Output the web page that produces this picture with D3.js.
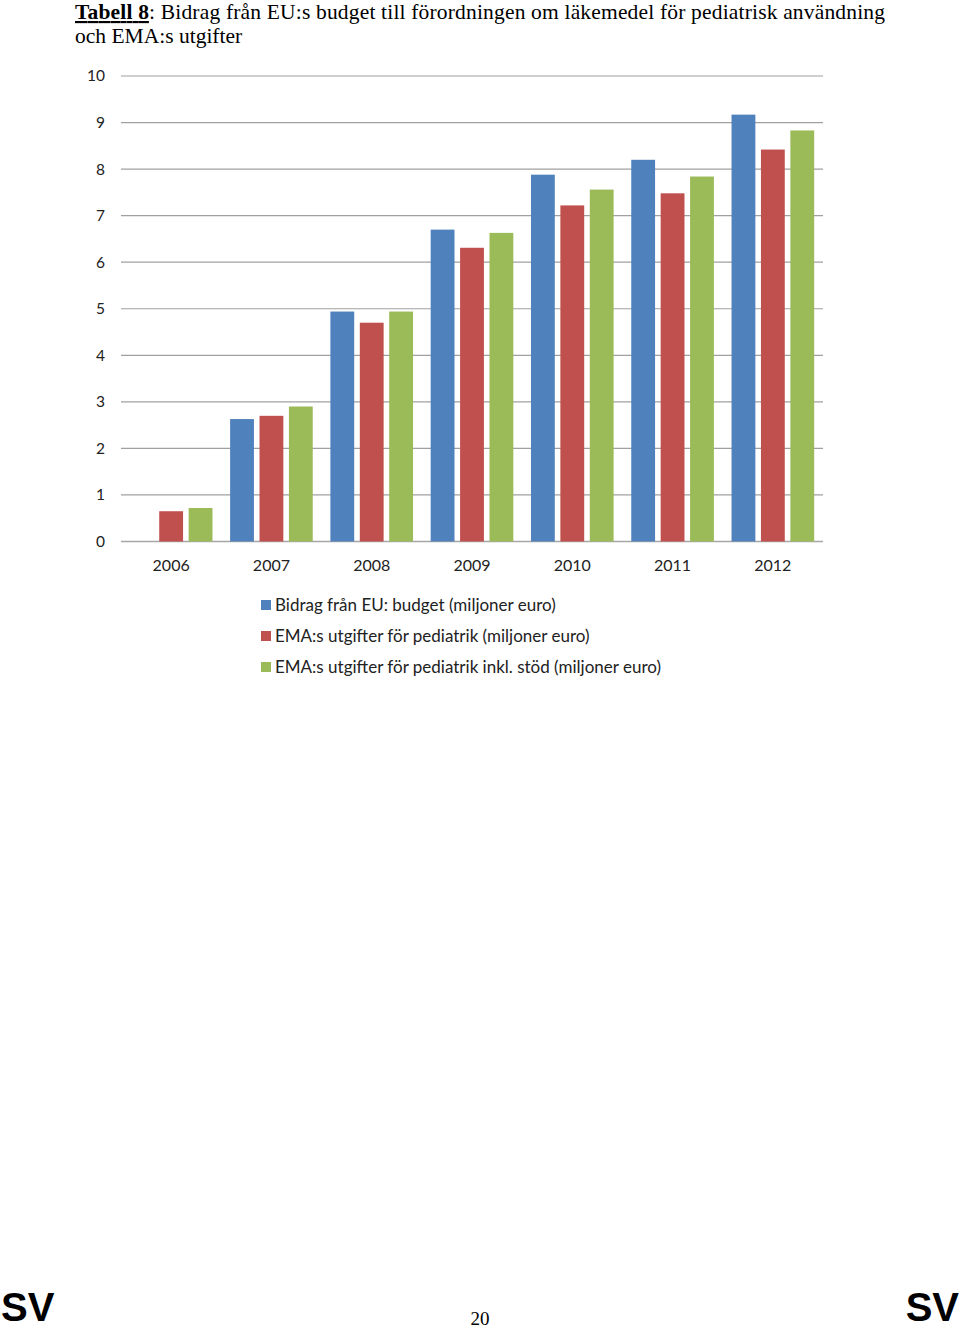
<!DOCTYPE html>
<html>
<head>
<meta charset="utf-8">
<script src="https://cdn.jsdelivr.net/npm/d3@7"></script>
<style>
  body { margin: 0; background: #fff; }
  svg { display: block; }
</style>
</head>
<body>
<svg id="page" width="960" height="1330"></svg>
<script>
// data
const years = ['2006', '2007', '2008', '2009', '2010', '2011', '2012'];
const budget = [0, 2.63, 4.94, 6.70, 7.88, 8.20, 9.17];
const pediatrik = [0.65, 2.70, 4.70, 6.31, 7.22, 7.48, 8.42];
const pediatrikStod = [0.72, 2.90, 4.94, 6.63, 7.56, 7.84, 8.83];
const seriesNames = [
    'Bidrag från EU: budget (miljoner euro)',
    'EMA:s utgifter för pediatrik (miljoner euro)',
    'EMA:s utgifter för pediatrik inkl. stöd (miljoner euro)'
];
const colors = ['#4f81bd', '#c0504d', '#9bbb59'];
const yTicks = [0, 1, 2, 3, 4, 5, 6, 7, 8, 9, 10];

const svg = d3.select('#page');
const serif = '"Liberation Serif", "Times New Roman", serif';
const sans = 'Lato, "Open Sans", sans-serif';

// title (two lines, first one stretched to the page width like the original)
const title = svg.append('text')
    .attr('x', 75).attr('y', 19)
    .attr('font-family', serif).attr('font-size', 21.5)
    .attr('textLength', 810).attr('lengthAdjust', 'spacing');
title.append('tspan').attr('font-weight', 'bold')
    .attr('text-decoration', 'underline').text('Tabell 8');
title.append('tspan').text(': Bidrag från EU:s budget till förordningen om läkemedel för pediatrisk användning');
svg.append('text')
    .attr('x', 75).attr('y', 43)
    .attr('font-family', serif).attr('font-size', 21.5)
    .text('och EMA:s utgifter');

// chart
const plotLeft = 121, plotRight = 823, plotTop = 76, plotBottom = 541.5;

const x = d3.scaleBand().domain(years).range([plotLeft, plotRight]).paddingInner(0).paddingOuter(0);
const x1 = d3.scaleBand().domain([0, 1, 2]).range([0, x.bandwidth()]).paddingInner(0.19).paddingOuter(0.3);
const y = d3.scaleLinear().domain([0, 10]).range([plotBottom, plotTop]);

const g = svg.append('g');

// gridlines
g.selectAll('line.grid')
    .data(yTicks)
    .join('line')
    .attr('class', 'grid')
    .attr('x1', plotLeft).attr('x2', plotRight)
    .attr('y1', d => y(d)).attr('y2', d => y(d))
    .attr('stroke', d => d === 0 ? '#a6a6a6' : '#a0a0a0')
    .attr('stroke-width', d => d === 0 ? 1.5 : 1.2);

// y labels
g.selectAll('text.ylab')
    .data(yTicks)
    .join('text')
    .attr('class', 'ylab')
    .attr('x', 105).attr('y', d => y(d))
    .attr('dy', '0.35em')
    .attr('text-anchor', 'end')
    .attr('font-family', sans).attr('font-size', 15.5)
    .attr('fill', '#222')
    .text(d => d);

// x labels
g.selectAll('text.xlab')
    .data(years)
    .join('text')
    .attr('class', 'xlab')
    .attr('x', d => x(d) + x.bandwidth() / 2)
    .attr('y', 565).attr('dy', '0.35em')
    .attr('text-anchor', 'middle')
    .attr('font-family', sans).attr('font-size', 16)
    .attr('fill', '#222')
    .text(d => d);

// bars
const allSeries = [budget, pediatrik, pediatrikStod];
const barData = [];
years.forEach((yr, i) => {
    allSeries.forEach((s, k) => {
        barData.push({ year: yr, k: k, value: s[i] });
    });
});

g.selectAll('rect.bar')
    .data(barData.filter(d => d.value > 0))
    .join('rect')
    .attr('class', 'bar')
    .attr('x', d => x(d.year) + x1(d.k))
    .attr('width', x1.bandwidth())
    .attr('y', d => y(d.value))
    .attr('height', d => y(0) - y(d.value))
    .attr('fill', d => colors[d.k]);

// legend
const legend = svg.append('g');
const rows = legend.selectAll('g')
    .data(seriesNames)
    .join('g')
    .attr('transform', (d, i) => `translate(261, ${605 + i * 31})`);
rows.append('rect')
    .attr('x', 0).attr('y', -5)
    .attr('width', 10).attr('height', 10)
    .attr('fill', (d, i) => colors[i]);
rows.append('text')
    .attr('x', 14).attr('dy', '0.35em')
    .attr('font-family', sans).attr('font-size', 17)
    .attr('fill', '#222')
    .text(d => d);

// footer
svg.append('text')
    .attr('x', 1).attr('y', 1321)
    .attr('font-family', '"Liberation Sans", Arial, sans-serif')
    .attr('font-weight', 'bold').attr('font-size', 40)
    .text('SV');
svg.append('text')
    .attr('x', 959).attr('y', 1321)
    .attr('text-anchor', 'end')
    .attr('font-family', '"Liberation Sans", Arial, sans-serif')
    .attr('font-weight', 'bold').attr('font-size', 40)
    .text('SV');
svg.append('text')
    .attr('x', 480).attr('y', 1325)
    .attr('text-anchor', 'middle')
    .attr('font-family', serif).attr('font-size', 19)
    .text('20');
</script>
</body>
</html>
